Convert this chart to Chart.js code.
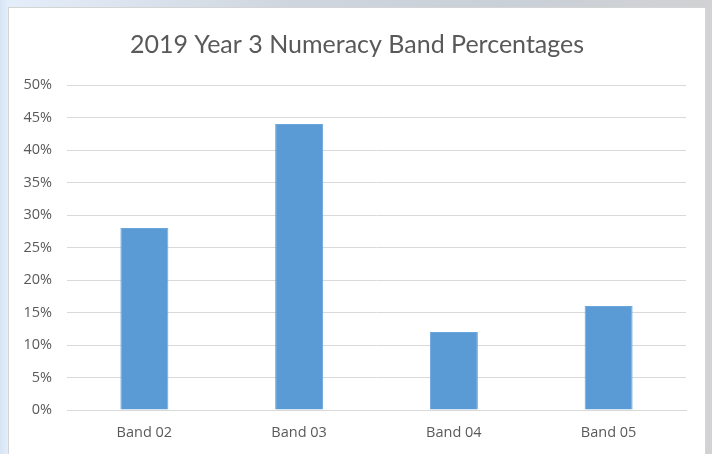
<!DOCTYPE html>
<html>
<head>
<meta charset="utf-8">
<script src="https://cdn.jsdelivr.net/npm/chart.js@4"></script>
<style>
  html, body { margin: 0; padding: 0; }
  body {
    width: 712px; height: 454px; overflow: hidden; position: relative;
    background: linear-gradient(90deg, #d6e4f4 0px, #e4eefa 8px, #cfd6df 40%, #c9d0d8 70%, #d2d2d4 100%);
  }
  #frame {
    position: absolute; left: 8px; top: 7px; width: 696px; height: 447px;
    background: #ffffff; border: 1px solid #d4d4d4; border-bottom: none;
  }
  #chart { display: block; }
</style>
</head>
<body>
<div id="frame"><canvas id="chart" width="696" height="447"></canvas></div>
<script>
const categories = ['Band 02', 'Band 03', 'Band 04', 'Band 05'];
const percentages = [28, 44, 12, 16];
const yTicks = [0, 5, 10, 15, 20, 25, 30, 35, 40, 45, 50];
const titleText = '2019 Year 3 Numeracy Band Percentages';

const TITLE_FONT = 'Lato, "Open Sans", sans-serif';
const TICK_FONT = '"Open Sans", Lato, sans-serif';
const TEXT = '#595959';

new Chart(document.getElementById('chart'), {
  type: 'bar',
  data: {
    labels: categories,
    datasets: [{
      data: percentages,
      backgroundColor: '#5b9bd5',
      borderColor: '#6aa5dc',
      borderWidth: 1,
      categoryPercentage: 1.0,
      barPercentage: 0.31
    }]
  },
  options: {
    responsive: false,
    animation: false,
    layout: { padding: 0 },
    plugins: {
      legend: { display: false },
      tooltip: { enabled: false },
      title: {
        display: true,
        text: titleText,
        color: TEXT,
        font: { family: TITLE_FONT, size: 25, weight: 'normal' },
        padding: { top: 22, bottom: 25 }
      }
    },
    scales: {
      x: {
        grid: { display: false, drawTicks: false },
        border: { display: true, color: '#d9d9d9' },
        ticks: { color: TEXT, font: { family: TICK_FONT, size: 14.5 }, padding: 14 },
        afterFit: (s) => { s.height = 45; }
      },
      y: {
        min: 0, max: 50,
        afterBuildTicks: (s) => { s.ticks = yTicks.map(v => ({ value: v })); },
        grid: { color: '#d9d9d9', drawTicks: false },
        border: { display: false },
        ticks: { color: TEXT, font: { family: TICK_FONT, size: 14.5 }, padding: 15,
                 callback: (v) => v + '%' },
        afterFit: (s) => { s.width = 58; }
      },
      // empty right-hand margin so the plot keeps clear of the frame edge
      yRight: {
        position: 'right',
        grid: { display: false, drawTicks: false },
        border: { display: false },
        ticks: { display: false },
        afterFit: (s) => { s.width = 19; }
      }
    }
  }
});
</script>
</body>
</html>
